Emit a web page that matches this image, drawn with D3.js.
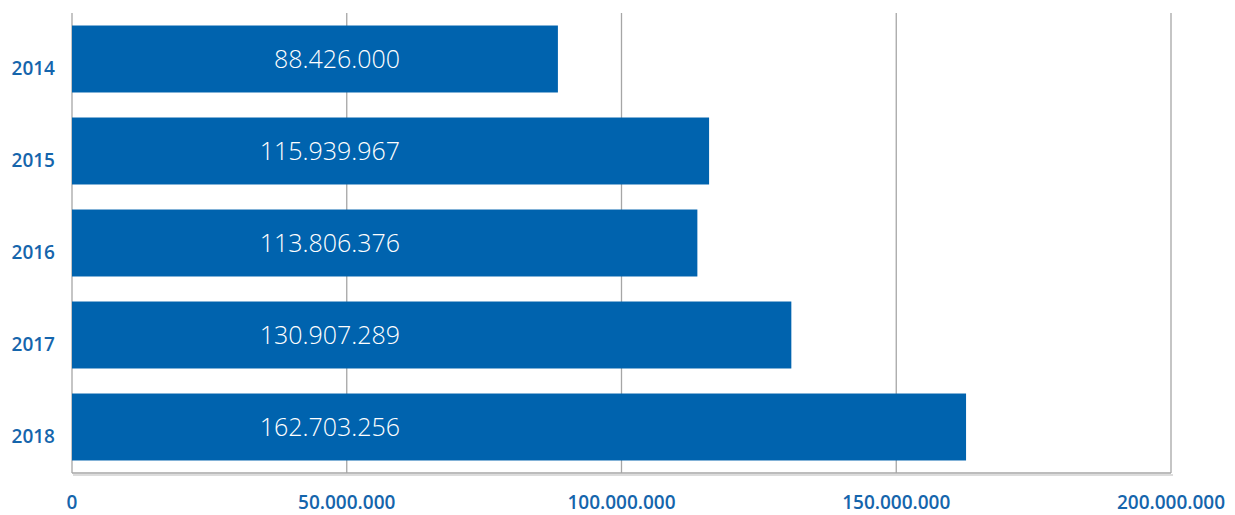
<!DOCTYPE html>
<html>
<head>
<meta charset="utf-8">
<script src="https://cdn.jsdelivr.net/npm/d3@7"></script>
<style>
  body { margin: 0; background: #fff; }
  text { font-family: "Open Sans", "Noto Sans", sans-serif; }
</style>
</head>
<body>
<script>
// chart data
var years = ["2014", "2015", "2016", "2017", "2018"];
var values = [88426000, 115939967, 113806376, 130907289, 162703256];
var xTicks = [0, 50000000, 100000000, 150000000, 200000000];

var width = 1235,
    height = 515;
var margin = { top: 13, right: 64, bottom: 42, left: 72 };

var blue = "#0063ae",
    labelBlue = "#1565ac",
    grid = "#a6a6a6";

var svg = d3.select("body").append("svg")
    .attr("width", width)
    .attr("height", height);

var x = d3.scaleLinear().domain([0, 200000000])
    .range([margin.left, width - margin.right]);
var y = d3.scaleBand().domain(years)
    .range([margin.top, height - margin.bottom])
    .paddingInner(0.272).paddingOuter(0.136);

// thousands with dots
var fmt = d3.formatLocale({ decimal: ",", thousands: ".", grouping: [3], currency: ["", ""] }).format(",d");

// vertical grid lines
svg.append("g").selectAll("line").data(xTicks)
    .enter().append("line")
    .attr("x1", function(d) { return x(d); })
    .attr("x2", function(d) { return x(d); })
    .attr("y1", margin.top)
    .attr("y2", height - margin.bottom)
    .attr("stroke", grid)
    .attr("stroke-width", 1.3);

// soft shadow under the bottom axis
svg.append("line")
    .attr("x1", x(0) + 1).attr("x2", x(200000000) + 2)
    .attr("y1", height - margin.bottom + 2).attr("y2", height - margin.bottom + 2)
    .attr("stroke", "#dcdcdc")
    .attr("stroke-width", 2);

// bottom axis line
svg.append("line")
    .attr("x1", x(0)).attr("x2", x(200000000))
    .attr("y1", height - margin.bottom).attr("y2", height - margin.bottom)
    .attr("stroke", grid)
    .attr("stroke-width", 1.5);

// bars
svg.append("g").selectAll("rect").data(values)
    .enter().append("rect")
    .attr("x", x(0))
    .attr("y", function(d, i) { return y(years[i]); })
    .attr("width", function(d) { return x(d) - x(0); })
    .attr("height", y.bandwidth())
    .attr("fill", blue);

// value labels inside bars
svg.append("g").selectAll("text").data(values)
    .enter().append("text")
    .attr("x", 400)
    .attr("y", function(d, i) { return y(years[i]) + y.bandwidth() / 2; })
    .attr("dy", "0.35em")
    .attr("text-anchor", "end")
    .attr("fill", "#fff")
    .attr("font-size", 25)
    .attr("font-weight", 300)
    .text(function(d) { return fmt(d); });

// year labels
svg.append("g").selectAll("text").data(years)
    .enter().append("text")
    .attr("x", 55)
    .attr("y", function(d) { return y(d) + y.bandwidth() / 2 + 9; })
    .attr("dy", "0.35em")
    .attr("text-anchor", "end")
    .attr("fill", labelBlue)
    .attr("font-size", 19)
    .attr("font-weight", 600)
    .text(function(d) { return d; });

// x tick labels
svg.append("g").selectAll("text").data(xTicks)
    .enter().append("text")
    .attr("x", function(d) { return x(d); })
    .attr("y", 509)
    .attr("text-anchor", "middle")
    .attr("fill", labelBlue)
    .attr("font-size", 19)
    .attr("font-weight", 600)
    .text(function(d) { return fmt(d); });
</script>
</body>
</html>
